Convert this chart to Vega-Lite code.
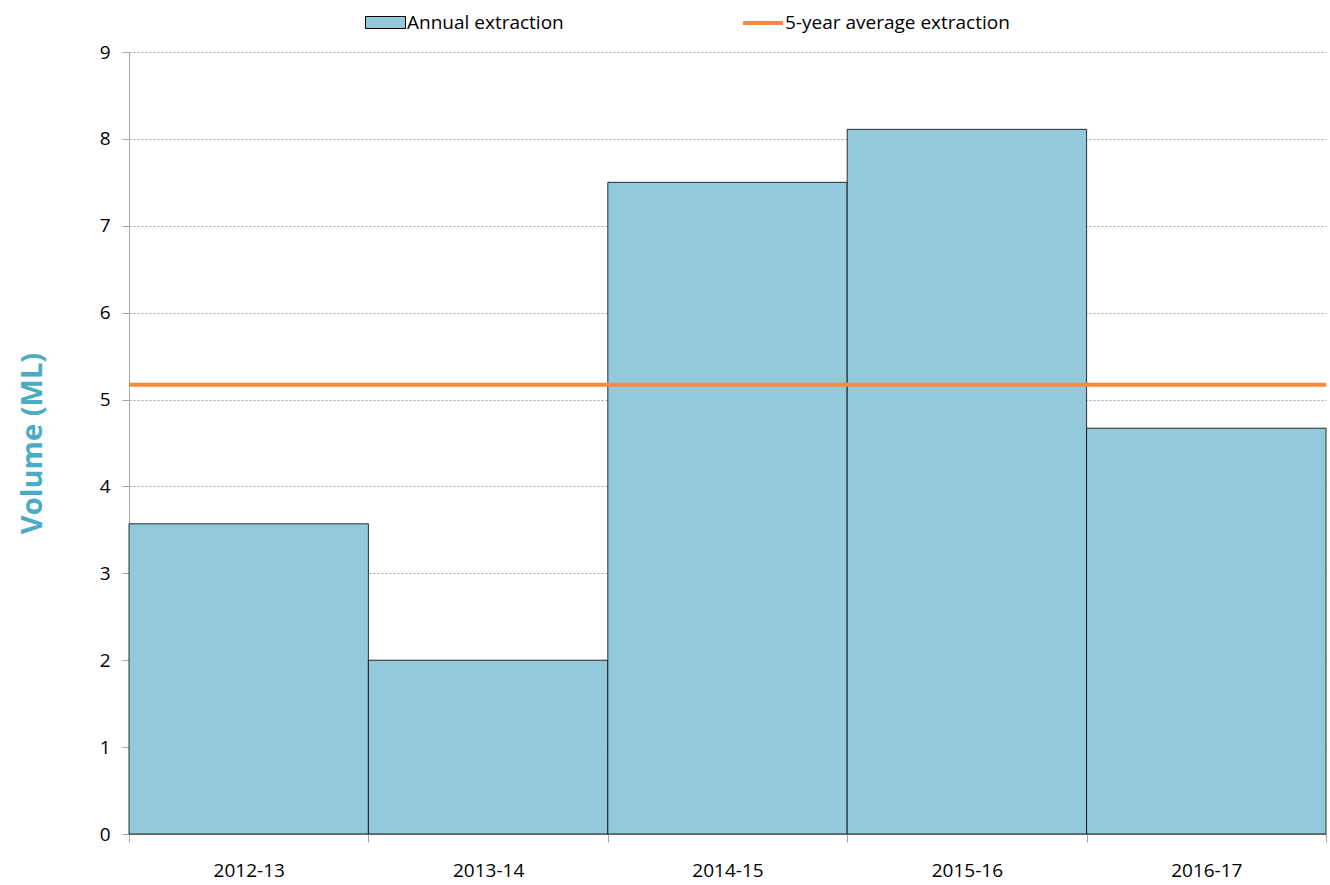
{
  "$schema": "https://vega.github.io/schema/vega-lite/v6.json",
  "autosize": "none",
  "width": 1197,
  "height": 782,
  "padding": {"left": 129, "top": 52, "right": 4, "bottom": 51},
  "background": "white",
  "config": {"view": {"stroke": null}, "font": "Open Sans"},
  "datasets": {
    "bars": [
      {"year": "2012-13", "volume": 3.57, "series": "Annual extraction"},
      {"year": "2013-14", "volume": 2.0, "series": "Annual extraction"},
      {"year": "2014-15", "volume": 7.5, "series": "Annual extraction"},
      {"year": "2015-16", "volume": 8.11, "series": "Annual extraction"},
      {"year": "2016-17", "volume": 4.67, "series": "Annual extraction"}
    ],
    "avg": [
      {"avg": 5.17, "series": "5-year average extraction"}
    ]
  },
  "layer": [
    {
      "data": {"name": "bars"},
      "mark": {"type": "bar", "stroke": "#000000", "strokeWidth": 0.8},
      "encoding": {
        "x": {
          "field": "year", "type": "nominal", "sort": null,
          "scale": {"paddingInner": 0, "paddingOuter": 0},
          "axis": {
            "title": null, "labelAngle": 0, "labelFontSize": 19, "labelColor": "#000000",
            "labelFont": "Open Sans", "tickBand": "extent", "tickSize": 8, "tickColor": "#A6A6A6",
            "domainColor": "#A6A6A6", "labelPadding": 19, "grid": false
          }
        },
        "y": {
          "field": "volume", "type": "quantitative",
          "scale": {"domain": [0, 9], "nice": false},
          "axis": {
            "title": "Volume (ML)", "titleFontSize": 29, "titleFontWeight": "bold",
            "titleColor": "#4BACC6", "titleFont": "Open Sans", "titlePadding": 52,
            "values": [0, 1, 2, 3, 4, 5, 6, 7, 8, 9], "format": "d",
            "labelFontSize": 19, "labelColor": "#000000", "labelPadding": 12,
            "tickSize": 7, "tickColor": "#A6A6A6", "domainColor": "#A6A6A6",
            "grid": true, "gridColor": "#8C8C8C", "gridDash": [2, 2], "gridWidth": 0.8
          }
        },
        "fill": {
          "field": "series", "type": "nominal",
          "scale": {"domain": ["Annual extraction"], "range": ["#92CADC"]},
          "legend": {
            "orient": "none", "legendX": 236, "legendY": -50, "direction": "horizontal",
            "title": null, "labelFontSize": 19, "labelFont": "Open Sans", "labelColor": "#000000",
            "labelLimit": 400, "symbolSize": 1600, "labelOffset": 1,
            "symbolType": "M-1,-0.3H1V0.3H-1Z",
            "symbolStrokeColor": "#000000", "symbolStrokeWidth": 1, "symbolOpacity": 1, "symbolFillColor": "#92CADC"
          }
        }
      }
    },
    {
      "data": {"name": "avg"},
      "mark": {"type": "rule", "strokeWidth": 4},
      "encoding": {
        "y": {"field": "avg", "type": "quantitative"},
        "stroke": {
          "field": "series", "type": "nominal",
          "scale": {"domain": ["5-year average extraction"], "range": ["#F58B3F"]},
          "legend": {
            "orient": "none", "legendX": 612, "legendY": -51, "direction": "horizontal",
            "title": null, "labelFontSize": 19, "labelFont": "Open Sans", "labelColor": "#000000",
            "labelLimit": 400, "symbolSize": 1600, "labelOffset": 0,
            "symbolType": "stroke", "symbolStrokeWidth": 4, "symbolOpacity": 1
          }
        }
      }
    }
  ]
}
